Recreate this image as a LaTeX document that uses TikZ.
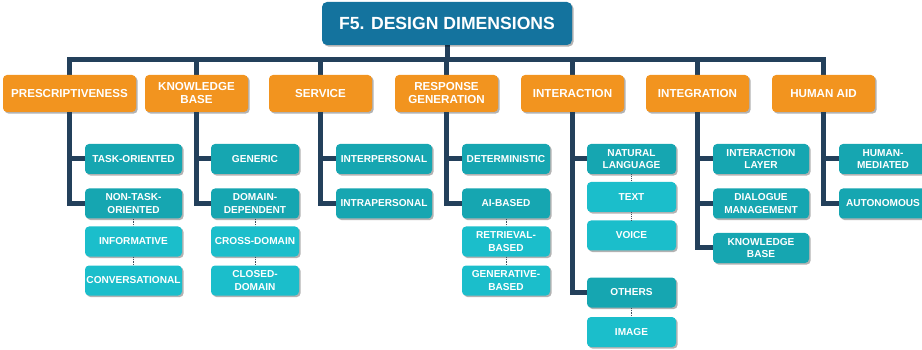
\documentclass[tikz,border=0pt]{standalone}
\usepackage{fontspec}
\setmainfont{Liberation Sans}
\usepackage{tikz}
\usetikzlibrary{shadows,backgrounds}
\definecolor{titleblue}{HTML}{14739E}
\definecolor{dimorange}{HTML}{F2941F}
\definecolor{subteal}{HTML}{16A6B1}
\definecolor{leafcyan}{HTML}{1BBECB}
\definecolor{trunkblue}{HTML}{23405B}
\definecolor{dotgray}{HTML}{3F4E5C}
\newcommand{\trunkwidth}{5pt}
\newcommand{\rowA}{159}
\newcommand{\rowB}{203.5}
\newcommand{\rowC}{241.5}
\newcommand{\rowD}{280.5}
\tikzset{
  boxshade/.style={drop shadow={shadow xshift=1.6pt,shadow yshift=-1.6pt,fill=black,opacity=0.3}},
  topbox/.style={fill=titleblue, boxshade, rounded corners=5pt, text=white, minimum width=250pt, minimum height=43pt, font=\bfseries\fontsize{17.6}{20}\selectfont},
  dimbox/.style={fill=dimorange, boxshade, rounded corners=4pt, text=white, align=center, minimum width=103pt, minimum height=37pt, inner sep=1pt, font=\bfseries\fontsize{11.6}{13}\selectfont},
  subbox/.style={fill=subteal, boxshade, rounded corners=4pt, text=white, align=center, minimum height=30pt, inner sep=1pt, font=\bfseries\fontsize{10.1}{12.4}\selectfont},
  leafbox/.style={subbox, fill=leafcyan},
  trunk/.style={draw=trunkblue, line width=\trunkwidth},
  dotlink/.style={draw=dotgray, densely dotted, line width=0.9pt}
}
\begin{document}
\begin{tikzpicture}[x=1pt,y=-1pt]
\useasboundingbox (0,0) rectangle (922,350);
\node[topbox] (title) at (447,23.5) {F5. DESIGN DIMENSIONS};
\coordinate (bus) at (0,60);
%dimensions
\node[dimbox, minimum width=133pt] (presc) at (69.5,93.5) {PRESCRIPTIVENESS};
\node[dimbox] (knowl) at (196.5,93.5) {KNOWLEDGE\\BASE};
\node[dimbox] (serv) at (320.5,93.5) {SERVICE};
\node[dimbox] (resp) at (446.5,93.5) {RESPONSE\\GENERATION};
\node[dimbox] (inter) at (572.5,93.5) {INTERACTION};
\node[dimbox] (integ) at (697.5,93.5) {INTEGRATION};
\node[dimbox] (human) at (823.5,93.5) {HUMAN AID};
%prescriptiveness
\node[subbox, minimum width=97pt] (taskor) at (133.5,\rowA) {TASK-ORIENTED};
\node[subbox, minimum width=97pt] (nontask) at (133.5,\rowB) {NON-TASK-\\ORIENTED};
\node[leafbox, minimum width=97pt] (inform) at (133.5,\rowC) {INFORMATIVE};
\node[leafbox, minimum width=97pt] (convers) at (133.5,\rowD) {CONVERSATIONAL};
%knowledge base
\node[subbox, minimum width=88pt] (generic) at (255,\rowA) {GENERIC};
\node[subbox, minimum width=88pt] (domdep) at (255,\rowB) {DOMAIN-\\DEPENDENT};
\node[leafbox, minimum width=88pt] (crossdom) at (255,\rowC) {CROSS-DOMAIN};
\node[leafbox, minimum width=88pt] (closeddom) at (255,\rowD) {CLOSED-\\DOMAIN};
%service
\node[subbox, minimum width=96pt] (interp) at (384,\rowA) {INTERPERSONAL};
\node[subbox, minimum width=96pt] (intrap) at (384,\rowB) {INTRAPERSONAL};
%response generation
\node[subbox, minimum width=88pt] (determ) at (506,\rowA) {DETERMINISTIC};
\node[subbox, minimum width=88pt] (aibased) at (506,\rowB) {AI-BASED};
\node[leafbox, minimum width=88pt] (retrieval) at (506,\rowC) {RETRIEVAL-\\BASED};
\node[leafbox, minimum width=88pt] (generative) at (506,\rowD) {GENERATIVE-\\BASED};
%interaction
\node[subbox, minimum width=89pt] (natlang) at (631.5,\rowA) {NATURAL\\LANGUAGE};
\node[leafbox, minimum width=89pt] (text) at (631.5,197) {TEXT};
\node[leafbox, minimum width=89pt] (voice) at (631.5,235.5) {VOICE};
\node[subbox, minimum width=89pt] (others) at (631.5,292.5) {OTHERS};
\node[leafbox, minimum width=89pt] (image) at (631.5,332) {IMAGE};
%integration
\node[subbox, minimum width=96pt] (intlayer) at (761,\rowA) {INTERACTION\\LAYER};
\node[subbox, minimum width=96pt] (dialog) at (761,\rowB) {DIALOGUE\\MANAGEMENT};
\node[subbox, minimum width=96pt] (kbase) at (761,248) {KNOWLEDGE\\BASE};
%human aid
\node[subbox, minimum width=88pt] (humanmed) at (883,\rowA) {HUMAN-\\MEDIATED};
\node[subbox, minimum width=88pt] (autonom) at (883,\rowB) {AUTONOMOUS};
%bus
\begin{scope}[on background layer]
\draw[trunk] (presc.north) |- (human.north |- bus) -- (human.north);
\draw[trunk] (title.south) -- (title.south |- bus);
\foreach \d in {knowl,serv,resp,inter,integ}
  \draw[trunk] (\d.north) -- (\d.north |- bus);
\end{scope}
%branches
\draw[trunk] (presc.south) |- (nontask.west);
\draw[trunk] (presc.south |- taskor.west) -- (taskor.west);
\draw[trunk] (knowl.south) |- (domdep.west);
\draw[trunk] (knowl.south |- generic.west) -- (generic.west);
\draw[trunk] (serv.south) |- (intrap.west);
\draw[trunk] (serv.south |- interp.west) -- (interp.west);
\draw[trunk] (resp.south) |- (aibased.west);
\draw[trunk] (resp.south |- determ.west) -- (determ.west);
\draw[trunk] (inter.south) |- (others.west);
\draw[trunk] (inter.south |- natlang.west) -- (natlang.west);
\draw[trunk] (integ.south) |- (kbase.west);
\draw[trunk] (integ.south |- intlayer.west) -- (intlayer.west);
\draw[trunk] (integ.south |- dialog.west) -- (dialog.west);
\draw[trunk] (human.south) |- (autonom.west);
\draw[trunk] (human.south |- humanmed.west) -- (humanmed.west);
%dotted links
\draw[dotlink] (nontask) -- (inform);
\draw[dotlink] (inform) -- (convers);
\draw[dotlink] (domdep) -- (crossdom);
\draw[dotlink] (crossdom) -- (closeddom);
\draw[dotlink] (aibased) -- (retrieval);
\draw[dotlink] (retrieval) -- (generative);
\draw[dotlink] (natlang) -- (text);
\draw[dotlink] (text) -- (voice);
\draw[dotlink] (others) -- (image);
\end{tikzpicture}
\end{document}
